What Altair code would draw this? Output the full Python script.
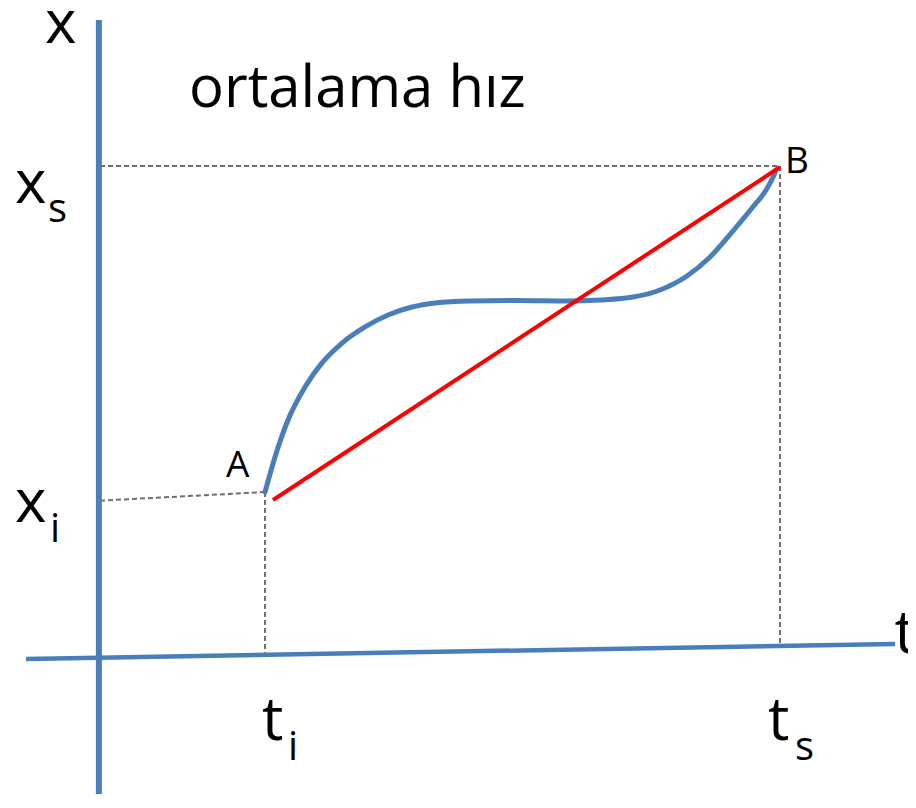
import altair as alt
import pandas as pd

# ---- data (t and x in arbitrary units) ----
# coordinate axes
axis_v_t = [0.01]; axis_v_x0 = [-1.66]; axis_v_x1 = [7.78]
axis_h_t0 = [-0.847]; axis_h_x0 = [-0.012]; axis_h_t1 = [9.376]; axis_h_x1 = [0.171]

# dashed guide lines
guide_t0 = [0.024, 1.965, 0.024, 8.024]
guide_x0 = [1.918, 2.024, 6.0, 6.0]
guide_t1 = [1.965, 1.965, 8.024, 8.024]
guide_x1 = [2.024, 0.037, 6.0, 0.159]

# secant A -> B (average velocity)
sec_t0 = [2.059]; sec_x0 = [1.927]; sec_t1 = [8.024]; sec_x1 = [5.988]

# position curve x(t)
curve_t = [1.965, 2.082, 2.235, 2.435, 2.635, 2.871, 3.141, 3.412, 3.694, 3.965,
           4.376, 4.929, 5.518, 5.906, 6.294, 6.612, 6.929, 7.188, 7.459, 7.694,
           7.859, 7.953, 7.976]
curve_x = [2.024, 2.451, 2.902, 3.305, 3.598, 3.841, 4.037, 4.183, 4.280, 4.329,
           4.354, 4.360, 4.354, 4.366, 4.402, 4.488, 4.659, 4.878, 5.195, 5.488,
           5.707, 5.890, 5.951]

# labels
big_text = ["x", "x", "x", "t", "t", "t"]
big_t = [-0.624, -0.976, -0.976, 1.929, 7.882, 9.37]
big_x = [7.5, 5.549, 1.659, -1.0, -1.0, 0.061]

sub_text = ["s", "i", "i", "s"]
sub_t = [-0.588, -0.565, 2.235, 8.2]
sub_x = [5.317, 1.415, -1.244, -1.244]

title_text = ["ortalama hız"]
title_t = [1.071]; title_x = [6.72]

pt_text = ["A", "B"]
pt_t = [1.506, 8.082]
pt_x = [2.207, 5.915]

T_DOMAIN = [-1.059, 9.529]
X_DOMAIN = [-1.659, 7.927]

FONT = "Open Sans"
BLUE = "#4A7EBB"

xs = alt.Scale(domain=T_DOMAIN, nice=False, zero=False)
ys = alt.Scale(domain=X_DOMAIN, nice=False, zero=False)


def seg_layer(t0, x0, t1, x1, **mk):
    df = pd.DataFrame({"t0": t0, "x0": x0, "t1": t1, "x1": x1})
    return alt.Chart(df).mark_rule(**mk).encode(
        x=alt.X("t0:Q", scale=xs, axis=None),
        y=alt.Y("x0:Q", scale=ys, axis=None),
        x2="t1:Q",
        y2="x1:Q",
    )


def text_layer(txt, t, x, size):
    df = pd.DataFrame({"label": txt, "t": t, "x": x})
    return alt.Chart(df).mark_text(
        font=FONT, fontSize=size, align="left", baseline="alphabetic", color="#000000"
    ).encode(
        x=alt.X("t:Q", scale=xs, axis=None),
        y=alt.Y("x:Q", scale=ys, axis=None),
        text="label:N",
    )


v_axis = seg_layer(axis_v_t, axis_v_x0, axis_v_t, axis_v_x1, color=BLUE, strokeWidth=6)
h_axis = seg_layer(axis_h_t0, axis_h_x0, axis_h_t1, axis_h_x1, color=BLUE, strokeWidth=4.5)
guides = seg_layer(guide_t0, guide_x0, guide_t1, guide_x1, color="#6E6E6E",
                   strokeWidth=2, strokeDash=[5, 3])
secant = seg_layer(sec_t0, sec_x0, sec_t1, sec_x1, color="#FF0000", strokeWidth=4)

curve_df = pd.DataFrame({"t": curve_t, "x": curve_x})
curve = alt.Chart(curve_df).mark_line(
    color=BLUE, strokeWidth=5, interpolate="monotone", strokeCap="round"
).encode(
    x=alt.X("t:Q", scale=xs, axis=None),
    y=alt.Y("x:Q", scale=ys, axis=None),
    order="t:Q",
)

chart = alt.layer(
    guides, v_axis, h_axis, curve, secant,
    text_layer(big_text, big_t, big_x, 60),
    text_layer(sub_text, sub_t, sub_x, 40),
    text_layer(title_text, title_t, title_x, 58),
    text_layer(pt_text, pt_t, pt_x, 37),
).properties(
    width=900, height=786, padding=0,
    autosize=alt.AutoSizeParams(type="none"),
    background="white",
).configure_view(stroke=None)

chart.save("out.html", embed_options={"renderer": "svg", "actions": False})
